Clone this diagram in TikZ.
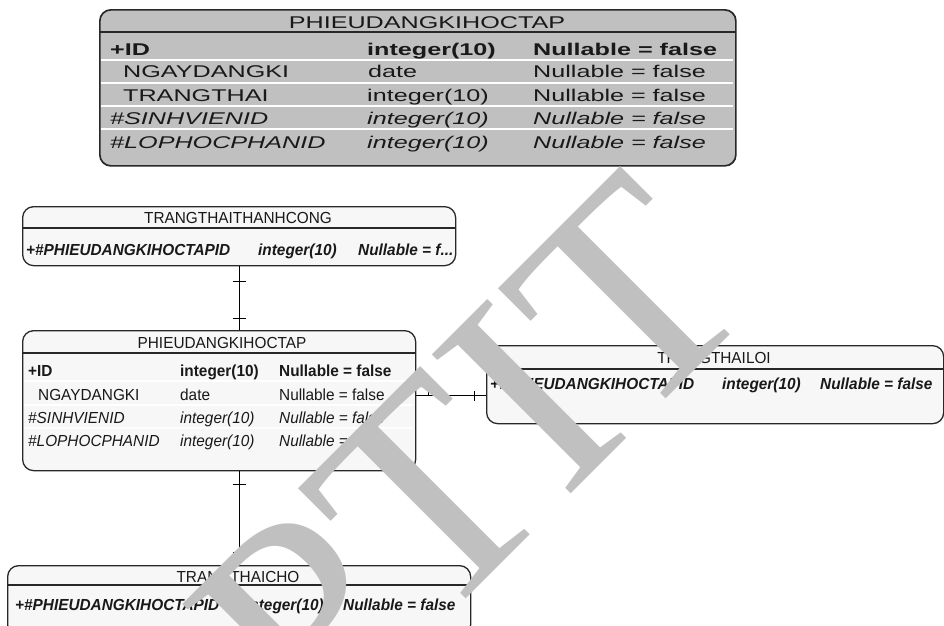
\documentclass[tikz,border=0pt]{standalone}
\usepackage{fontspec}
\setmainfont{Liberation Sans}
\newfontfamily\erfont[FakeStretch=0.96]{Liberation Sans}
\newfontfamily\widefont[FakeStretch=1.48]{Liberation Sans}
\newfontfamily\markfont{Liberation Serif}
\usetikzlibrary{calc}
\definecolor{edgegray}{RGB}{40,40,40}
\definecolor{boxfill}{RGB}{247,247,247}
\definecolor{headfill}{RGB}{192,192,192}
\definecolor{markgray}{RGB}{192,192,192}
\definecolor{inkgray}{RGB}{25,25,25}

\tikzset{
  entbox/.style={draw=edgegray, line width=1.3pt, fill=boxfill,
    rounded corners=11pt, anchor=north west, inner sep=0pt},
  bigbox/.style={entbox, fill=headfill, line width=1.7pt},
  divider/.style={draw=edgegray, line width=1.2pt},
  rowline/.style={draw=white, line width=1.6pt},
  cell/.style={anchor=base west, inner sep=0pt, text=inkgray,
    font=\erfont\fontsize{16}{18}\selectfont},
  title/.style={cell, anchor=base},
  bigcell/.style={anchor=base west, inner sep=0pt, text=inkgray,
    font=\widefont\fontsize{17}{19}\selectfont},
  bigtitle/.style={bigcell, anchor=base},
  link/.style={draw=black, line width=0.9pt},
  watermark/.style={rotate=45, inner sep=0pt, text=markgray,
    font=\markfont\fontsize{300}{300}\selectfont}
}

\begin{document}
\begin{tikzpicture}[x=1pt,y=-1pt]
\useasboundingbox (0,0) rectangle (944,625);

% ---------- header entity (grey) ----------
\node[bigbox, minimum width=636pt, minimum height=156pt] (head) at (99,9) {};
\draw[divider, line width=1.5pt] (99,32) -- (735,32);
\foreach \yy in {60,83,106,129} \draw[rowline] (101,\yy) -- (733,\yy);
\node[bigtitle] (headT) at (427,28) {PHIEUDANGKIHOCTAP};
\node[bigcell, font=\widefont\fontsize{17}{19}\selectfont\bfseries] (h1a) at (110,55) {+ID};
\node[bigcell, font=\widefont\fontsize{17}{19}\selectfont\bfseries] (h1b) at (367,55) {integer(10)};
\node[bigcell, font=\widefont\fontsize{17}{19}\selectfont\bfseries] (h1c) at (533,55) {Nullable = false};
\node[bigcell] (h2a) at (123,77) {NGAYDANGKI};
\node[bigcell] (h2b) at (368,77) {date};
\node[bigcell] (h2c) at (533,77) {Nullable = false};
\node[bigcell] (h3a) at (123,101) {TRANGTHAI};
\node[bigcell] (h3b) at (367,101) {integer(10)};
\node[bigcell] (h3c) at (533,101) {Nullable = false};
\node[bigcell, font=\widefont\fontsize{17}{19}\selectfont\itshape] (h4a) at (110,124) {\#SINHVIENID};
\node[bigcell, font=\widefont\fontsize{17}{19}\selectfont\itshape] (h4b) at (367,124) {integer(10)};
\node[bigcell, font=\widefont\fontsize{17}{19}\selectfont\itshape] (h4c) at (533,124) {Nullable = false};
\node[bigcell, font=\widefont\fontsize{17}{19}\selectfont\itshape] (h5a) at (110,148) {\#LOPHOCPHANID};
\node[bigcell, font=\widefont\fontsize{17}{19}\selectfont\itshape] (h5b) at (367,148) {integer(10)};
\node[bigcell, font=\widefont\fontsize{17}{19}\selectfont\itshape] (h5c) at (533,148) {Nullable = false};

% ---------- TRANGTHAITHANHCONG ----------
\node[entbox, minimum width=433pt, minimum height=59pt] (thanh) at (22,206) {};
\draw[divider] (22,228) -- (455,228);
\node[title] (thanhT) at (238,223) {TRANGTHAITHANHCONG};
\node[cell, font=\erfont\fontsize{16}{18}\selectfont\bfseries\itshape] (t1a) at (26,255) {+\#PHIEUDANGKIHOCTAPID};
\node[cell, font=\erfont\fontsize{16}{18}\selectfont\bfseries\itshape] (t1b) at (258,255) {integer(10)};
\node[cell, font=\erfont\fontsize{16}{18}\selectfont\bfseries\itshape] (t1c) at (358,255) {Nullable = f...};

% ---------- PHIEUDANGKIHOCTAP ----------
\node[entbox, minimum width=393pt, minimum height=140pt] (mid) at (22,330) {};
\draw[divider] (22,353) -- (415,353);
\foreach \yy in {381,405,428} \draw[rowline, line width=1.2pt] (24,\yy) -- (413,\yy);
\node[title] (midT) at (222,348) {PHIEUDANGKIHOCTAP};
\node[cell, font=\erfont\fontsize{16}{18}\selectfont\bfseries] (m1a) at (28,376) {+ID};
\node[cell, font=\erfont\fontsize{16}{18}\selectfont\bfseries] (m1b) at (180,376) {integer(10)};
\node[cell, font=\erfont\fontsize{16}{18}\selectfont\bfseries] (m1c) at (279,376) {Nullable = false};
\node[cell] (m2a) at (38,400) {NGAYDANGKI};
\node[cell] (m2b) at (180,400) {date};
\node[cell] (m2c) at (279,400) {Nullable = false};
\node[cell, font=\erfont\fontsize{16}{18}\selectfont\itshape] (m3a) at (28,423) {\#SINHVIENID};
\node[cell, font=\erfont\fontsize{16}{18}\selectfont\itshape] (m3b) at (180,423) {integer(10)};
\node[cell, font=\erfont\fontsize{16}{18}\selectfont\itshape] (m3c) at (279,423) {Nullable = false};
\node[cell, font=\erfont\fontsize{16}{18}\selectfont\itshape] (m4a) at (28,446) {\#LOPHOCPHANID};
\node[cell, font=\erfont\fontsize{16}{18}\selectfont\itshape] (m4b) at (180,446) {integer(10)};
\node[cell, font=\erfont\fontsize{16}{18}\selectfont\itshape] (m4c) at (279,446) {Nullable = false};

% ---------- TRANGTHAILOI ----------
\node[entbox, minimum width=457pt, minimum height=78pt] (loi) at (486,345) {};
\draw[divider] (486,369) -- (943,369);
\node[title] (loiT) at (714,363) {TRANGTHAILOI};
\node[cell, font=\erfont\fontsize{16}{18}\selectfont\bfseries\itshape] (l1a) at (490,389) {+\#PHIEUDANGKIHOCTAPID};
\node[cell, font=\erfont\fontsize{16}{18}\selectfont\bfseries\itshape] (l1b) at (722,389) {integer(10)};
\node[cell, font=\erfont\fontsize{16}{18}\selectfont\bfseries\itshape] (l1c) at (820,389) {Nullable = false};

% ---------- TRANGTHAICHO ----------
\node[entbox, minimum width=463pt, minimum height=70pt] (cho) at (7,565) {};
\draw[divider] (7,585) -- (470,585);
\node[title] (choT) at (238,582) {TRANGTHAICHO};
\node[cell, font=\erfont\fontsize{16}{18}\selectfont\bfseries\itshape] (c1a) at (15,610) {+\#PHIEUDANGKIHOCTAPID};
\node[cell, font=\erfont\fontsize{16}{18}\selectfont\bfseries\itshape] (c1b) at (245,610) {integer(10)};
\node[cell, font=\erfont\fontsize{16}{18}\selectfont\bfseries\itshape] (c1c) at (343,610) {Nullable = false};

% ---------- relationships (one-to-one) ----------
\coordinate (vx) at (239,0);
\coordinate (hy) at (0,395);
\draw[link] (thanh.south -| vx) -- (mid.north -| vx);
\draw[link] ($(thanh.south -| vx)+(-6.5,15)$) -- ++(13,0);
\draw[link] ($(mid.north -| vx)+(-6.5,-12)$) -- ++(13,0);

\draw[link] (mid.south -| vx) -- (cho.north -| vx);
\draw[link] ($(mid.south -| vx)+(-6.5,13)$) -- ++(13,0);
\draw[link] ($(cho.north -| vx)+(-6.5,-13)$) -- ++(13,0);

\draw[link] (mid.east |- hy) -- (loi.west |- hy);
\draw[link] ($(mid.east |- hy)+(12,-9)$) -- ++(0,9);
\draw[link] ($(loi.west |- hy)+(-12,-4)$) -- ++(0,10);

% ---------- watermark ----------
\node[watermark] (mark) at (470,456) {PTIT};
\end{tikzpicture}
\end{document}
